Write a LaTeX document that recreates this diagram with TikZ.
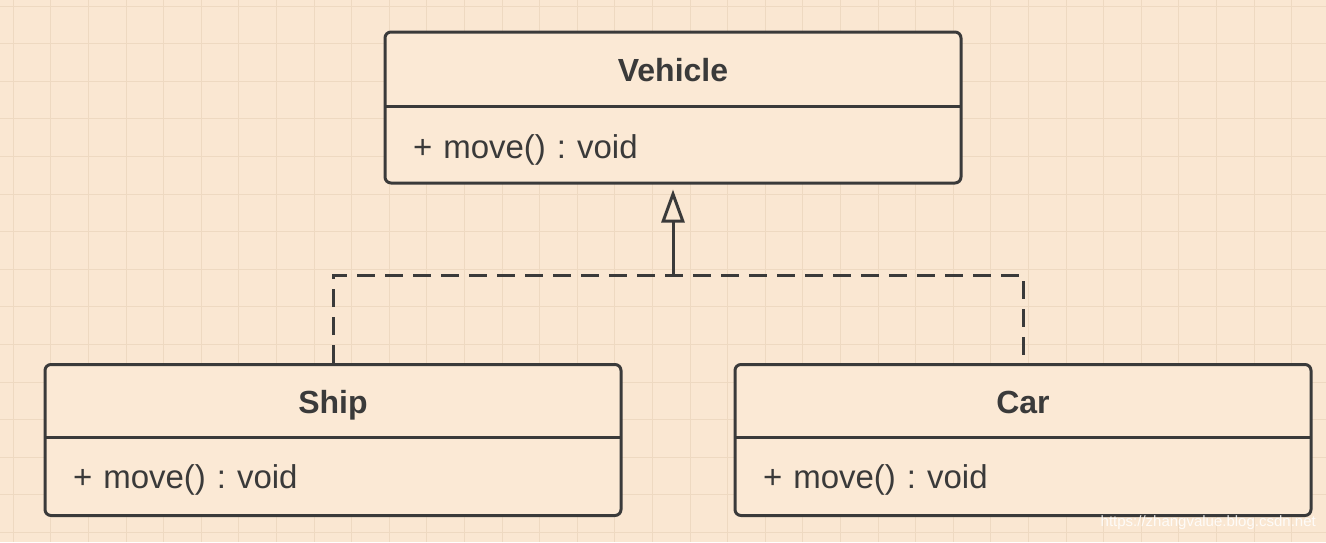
\documentclass[tikz,border=0pt]{standalone}
\usepackage{fontspec}
\setmainfont{Liberation Sans}
\usepackage{xcolor}
\usepackage{tikz}
\usetikzlibrary{
  arrows.meta,
  positioning
}
\frenchspacing
\definecolor{paperbg}{RGB}{250,231,210}
\definecolor{gridtan}{RGB}{238,217,193}
\definecolor{boxfill}{RGB}{251,233,213}
\definecolor{umlink}{RGB}{58,58,58}
\tikzset{
  classbox/.style={draw=umlink,line width=3pt,fill=boxfill,
    rounded corners=6pt,minimum width=576pt,minimum height=151pt,
    inner sep=0pt},
  classtitle/.style={minimum width=576pt,minimum height=76pt,inner sep=0pt,
    text height=26pt,text depth=0pt,
    anchor=north,text=umlink,font=\fontsize{32}{38}\selectfont\bfseries},
  member/.style={anchor=north west,minimum height=75pt,text width=520pt,
    inner xsep=28pt,inner ysep=0pt,align=left,text=umlink,
    text height=27pt,text depth=0pt,
    font=\fontsize{33}{38}\selectfont},
  divider/.style={draw=umlink,line width=3pt},
  realize/.style={draw=umlink,line width=3pt,dash pattern=on 18pt off 10pt},
  inherit/.style={-{Triangle[open,length=33pt,width=23pt,line width=3pt]},
    draw=umlink,line width=3pt,shorten >=5pt},
  gridline/.style={draw=gridtan,line width=1pt},
  watermark/.style={font=\fontsize{15}{18}\selectfont,text=white,opacity=0.85,
    anchor=east,inner sep=0pt}
}

\begin{document}
\begin{tikzpicture}[x=1pt,y=-1pt]
  \useasboundingbox (0,0) rectangle (1326,542);
  \fill[paperbg] (0,0) rectangle (1326,542);
  % grid paper
  \foreach \i in {0,...,35}
    \draw[gridline] (13.3+37.6*\i,0) -- (13.3+37.6*\i,542);
  \foreach \j in {0,...,14}
    \draw[gridline] (0,6+37.6*\j) -- (1326,6+37.6*\j);

  % classes
  \node[classbox] (veh) at (673,107.5) {};
  \node[classtitle] (vehT) at (veh.north) {Vehicle};
  \draw[divider] (vehT.south west) -- (vehT.south east);
  \node[member] (vehM) at (vehT.south west) {+ move() : void};

  \node[classbox] (ship) at (333,440) {};
  \node[classtitle,minimum height=74pt] (shipT) at (ship.north) {Ship};
  \draw[divider] (shipT.south west) -- (shipT.south east);
  \node[member] (shipM) at (shipT.south west) {+ move() : void};

  \node[classbox] (car) at (1023,440) {};
  \node[classtitle,minimum height=74pt] (carT) at (car.north) {Car};
  \draw[divider] (carT.south west) -- (carT.south east);
  \node[member] (carM) at (carT.south west) {+ move() : void};

  % realization
  \coordinate (bend) at (673,275);
  \draw[realize] (ship.north) |- (bend) -| (car.north);
  \draw[inherit] (bend) -- (veh.south);

  \node[watermark] (wm) at (1316,523) {https://zhangvalue.blog.csdn.net};
\end{tikzpicture}
\end{document}
